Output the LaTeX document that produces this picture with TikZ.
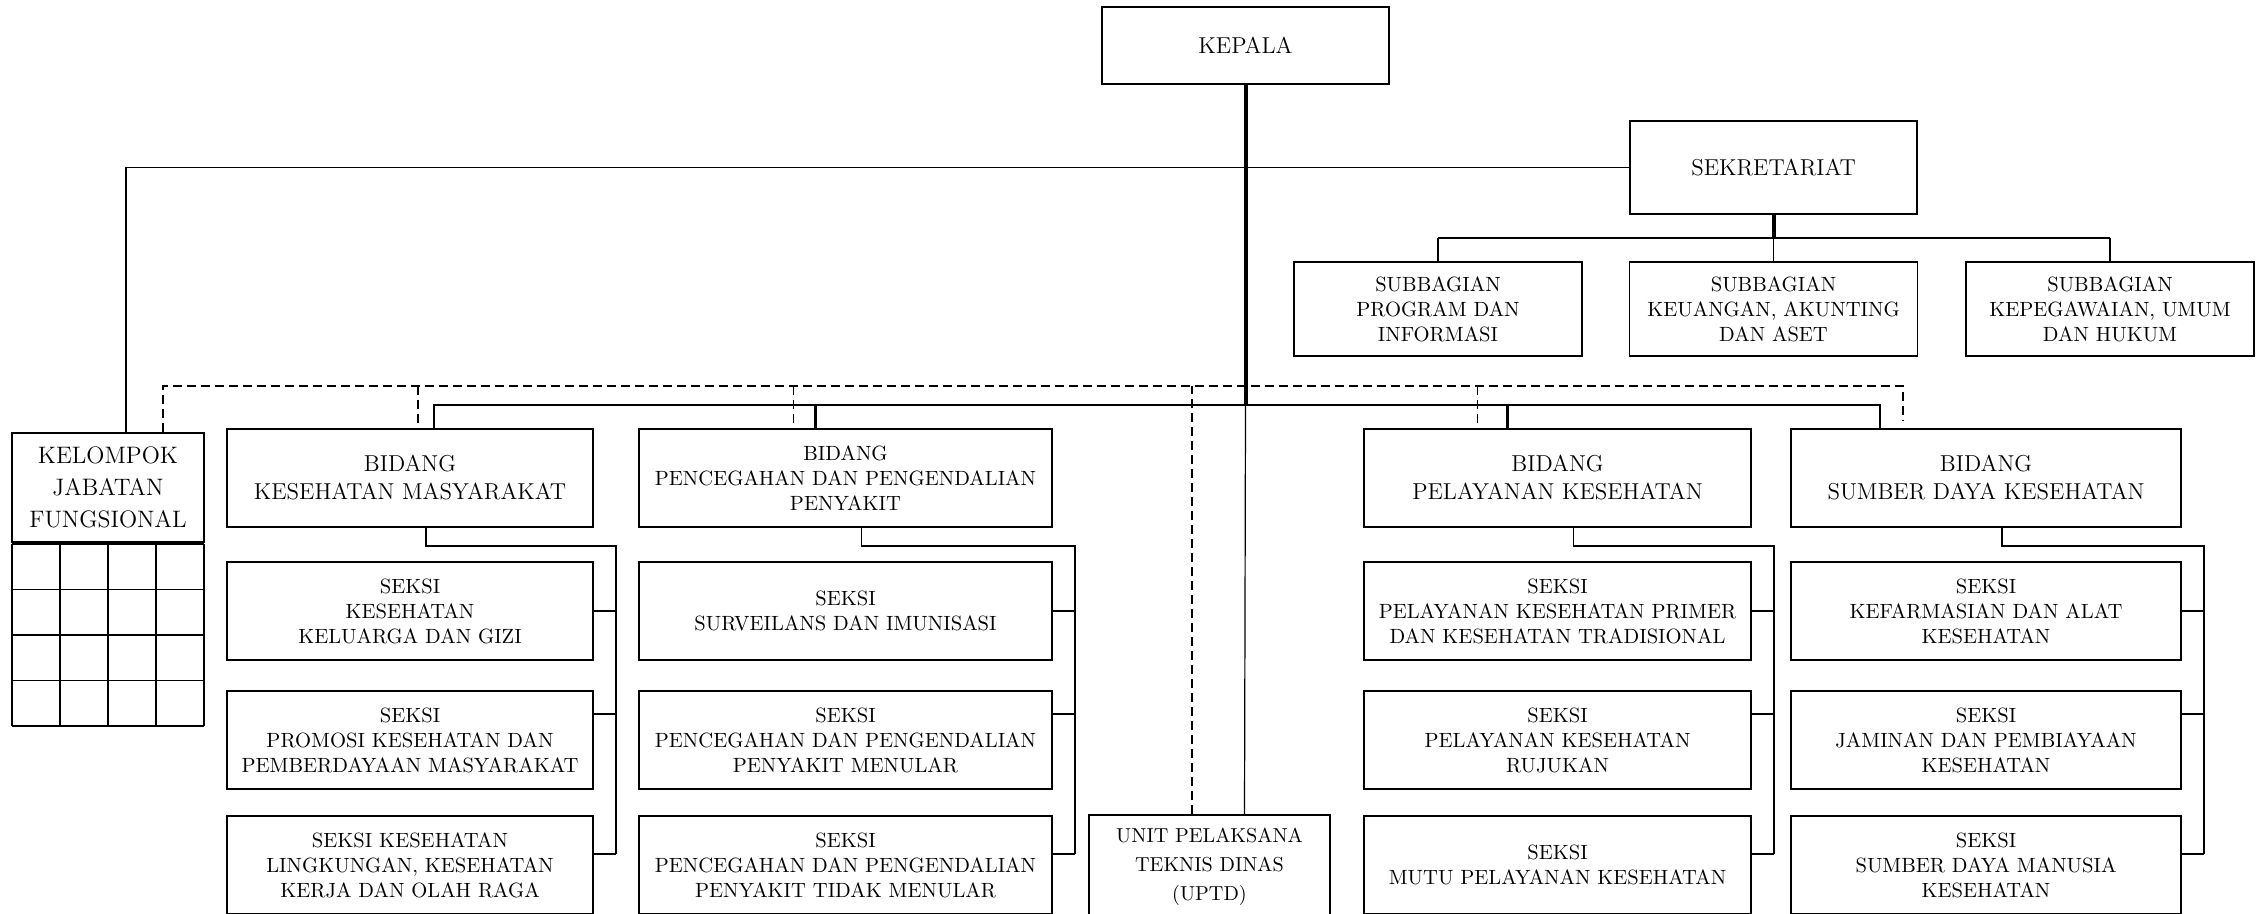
\documentclass[tikz,border=0pt]{standalone}
\usepackage{fontspec}
\usepackage{tikz}
\usetikzlibrary{positioning}

\tikzset{
  unit/.style={draw, rectangle, line width=0.75pt, align=center, inner sep=2pt},
  topbox/.style={unit, font=\fontsize{11.5}{14}\selectfont},
  bidangbox/.style={unit, minimum height=49pt, font=\fontsize{11.5}{14}\selectfont},
  seksibox/.style={unit, minimum height=49pt, font=\fontsize{10.3}{12.5}\selectfont},
  trunk/.style={line width=2pt},
  bus/.style={line width=1.1pt},
  link/.style={line width=0.95pt},
  thinlink/.style={line width=0.6pt},
  dashline/.style={line width=0.75pt, dash pattern=on 4.5pt off 2.5pt},
}

\begin{document}
\begin{tikzpicture}[x=0.5pt, y=-0.5pt]

  \useasboundingbox (0,0) rectangle (2263,914);

  % Define nodes
  \node[topbox, minimum width=143.5pt, minimum height=38.5pt] (kepala) at (1245.5,45.5) {KEPALA};
  \node[topbox, minimum width=143.5pt, minimum height=46.5pt] (sek) at (1773.5,167.5) {SEKRETARIAT};

  \node[seksibox, minimum width=144pt, minimum height=47pt] (sub1) at (1438,309) {SUBBAGIAN\\PROGRAM DAN\\INFORMASI};
  \node[seksibox, minimum width=144pt, minimum height=47pt] (sub2) at (1773.5,309) {SUBBAGIAN\\KEUANGAN, AKUNTING\\DAN ASET};
  \node[seksibox, minimum width=144pt, minimum height=47pt] (sub3) at (2110,309) {SUBBAGIAN\\KEPEGAWAIAN, UMUM\\DAN HUKUM};

  \node[unit, minimum width=96pt, minimum height=54.5pt, font=\fontsize{11.9}{16}\selectfont] (kjf) at (108,487.5) {KELOMPOK\\JABATAN\\FUNGSIONAL};

  \node[bidangbox, minimum width=183pt] (bkm) at (410,478) {BIDANG\\KESEHATAN MASYARAKAT};
  \node[seksibox, minimum width=206.5pt] (bp2p) at (845.5,478) {BIDANG\\PENCEGAHAN DAN PENGENDALIAN\\PENYAKIT};
  \node[bidangbox, minimum width=193.5pt] (bpk) at (1557.5,478) {BIDANG\\PELAYANAN KESEHATAN};
  \node[bidangbox, minimum width=195pt] (bsd) at (1986,478) {BIDANG\\SUMBER DAYA KESEHATAN};

  \node[seksibox, minimum width=183pt] (km1) at (410,611) {SEKSI\\KESEHATAN\\KELUARGA DAN GIZI};
  \node[seksibox, minimum width=183pt] (km2) at (410,740) {SEKSI\\PROMOSI KESEHATAN DAN\\PEMBERDAYAAN MASYARAKAT};
  \node[seksibox, minimum width=183pt] (km3) at (410,865) {SEKSI KESEHATAN\\LINGKUNGAN, KESEHATAN\\KERJA DAN OLAH RAGA};

  \node[seksibox, minimum width=206.5pt] (pp1) at (845.5,611) {SEKSI\\SURVEILANS DAN IMUNISASI};
  \node[seksibox, minimum width=206.5pt] (pp2) at (845.5,740) {SEKSI\\PENCEGAHAN DAN PENGENDALIAN\\PENYAKIT MENULAR};
  \node[seksibox, minimum width=206.5pt] (pp3) at (845.5,865) {SEKSI\\PENCEGAHAN DAN PENGENDALIAN\\PENYAKIT TIDAK MENULAR};

  \node[seksibox, minimum width=193.5pt] (pk1) at (1557.5,611) {SEKSI\\PELAYANAN KESEHATAN PRIMER\\DAN KESEHATAN TRADISIONAL};
  \node[seksibox, minimum width=193.5pt] (pk2) at (1557.5,740) {SEKSI\\PELAYANAN KESEHATAN\\RUJUKAN};
  \node[seksibox, minimum width=193.5pt] (pk3) at (1557.5,865) {SEKSI\\MUTU PELAYANAN KESEHATAN};

  \node[seksibox, minimum width=195pt] (sd1) at (1986,611) {SEKSI\\KEFARMASIAN DAN ALAT\\KESEHATAN};
  \node[seksibox, minimum width=195pt] (sd2) at (1986,740) {SEKSI\\JAMINAN DAN PEMBIAYAAN\\KESEHATAN};
  \node[seksibox, minimum width=195pt] (sd3) at (1986,865) {SEKSI\\SUMBER DAYA MANUSIA\\KESEHATAN};

  \node[unit, minimum width=120.5pt, minimum height=51.5pt, font=\fontsize{10.1}{14.5}\selectfont] (uptd) at (1209.5,866.5) {UNIT PELAKSANA\\TEKNIS DINAS\\(UPTD)};

  % grid under kelompok jabatan fungsional
  \foreach \i in {0,...,4} {
    \draw[line width=0.85pt] (12+48*\i,544) -- (12+48*\i,726);
    \draw[line width=0.85pt] (12,544+45.5*\i) -- (204,544+45.5*\i);
  }

  % Connect the nodes
  \coordinate (bus) at (1245.5,405);
  \coordinate (subbus) at (1773.5,238);
  \coordinate (dashbus) at (1192,386);

  \draw[trunk] (kepala.south) -- (bus);
  \draw[thinlink] (bus) -- ([xshift=17.5pt]uptd.north);
  \draw[link] ([xshift=9pt]kjf.north) |- (sek.west);

  \draw[trunk] (sek.south) -- (subbus);
  \draw[bus] (sub1.north |- subbus) -- (sub3.north |- subbus);
  \draw[link] (sub1.north) -- (sub1.north |- subbus);
  \draw[thinlink] (sub2.north) -- (subbus);
  \draw[link] (sub3.north) -- (sub3.north |- subbus);

  \draw[bus] ([xshift=12pt]bkm.north) |- (bus) -| ([xshift=-53pt]bsd.north);
  \draw[bus] ([xshift=-15pt]bp2p.north) |- (bus);
  \draw[bus] ([xshift=-25pt]bpk.north) |- (bus);

  % dashed lines to kelompok jabatan fungsional
  \draw[dashline] ([xshift=27.5pt]kjf.north) |- (dashbus) -| ([xshift=-41.5pt,yshift=4pt]bsd.north);
  \draw[dashline] ([xshift=-8.75pt]uptd.north) -- (dashbus);
  \draw[dashline] ([xshift=4pt,yshift=2.5pt]bkm.north) -- ++(0pt,19pt);
  \draw[dashline] ([xshift=-26pt,yshift=2.5pt]bp2p.north) -- ++(0pt,19pt);
  \draw[dashline] ([xshift=-40pt,yshift=2.5pt]bpk.north) -- ++(0pt,19pt);

  % seksi under each bidang
  \foreach \bid/\col in {bkm/km, bp2p/pp, bpk/pk, bsd/sd} {
    \draw[link] ([xshift=8pt]\bid.south) |- ([xshift=11pt,yshift=7.5pt]\col1.north east) -- ([xshift=11pt,yshift=5.5pt]\col3.east);
    \draw[bus] (\col1.east) -- ++(11pt,0pt);
    \draw[bus] ([yshift=13pt]\col2.east) -- ++(11pt,0pt);
    \draw[bus] ([yshift=5.5pt]\col3.east) -- ++(11pt,0pt);
  }

\end{tikzpicture}
\end{document}
